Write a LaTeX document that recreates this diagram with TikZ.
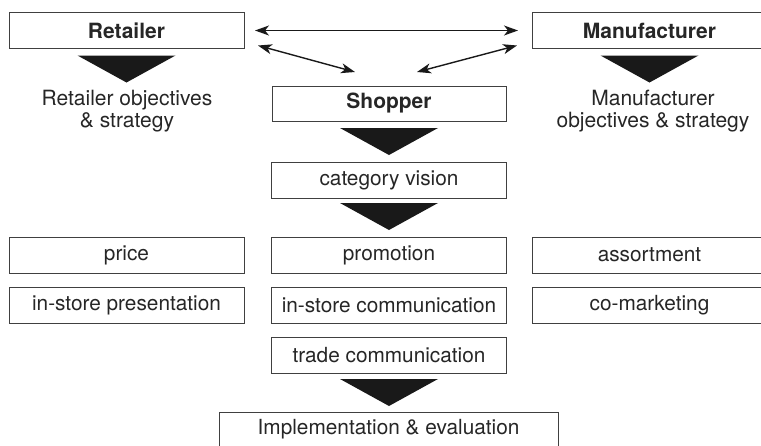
\documentclass[tikz,border=0pt]{standalone}
\usepackage{fontspec}
\setmainfont{TeX Gyre Heros}
\usetikzlibrary{arrows.meta, calc, positioning}

% black funnel below a box: #1 node, #2 gap
\newcommand\funnelbelow[2]{%
  \fill[funnel] ($(#1.south)+(-49,#2)$) -- ($(#1.south)+(49,#2)$)
                -- ($(#1.south)+(0,#2+27)$) -- cycle;}

\begin{document}
\begin{tikzpicture}[x=1pt, y=-1pt,% pixel units, y pointing down
         > = {Stealth[length=14pt, width=10pt, inset=4pt]},
box/.style = {draw=black!75, line width=0.9pt,
              minimum width=235pt, minimum height=36pt,
              inner sep=0pt, outer sep=0pt,
              font=\fontsize{20.8}{24}\selectfont, text=black!85},
head/.style = {box, font=\fontsize{21}{24}\selectfont\bfseries},
note/.style = {align=center, inner sep=0pt,
               font=\fontsize{21}{22.5}\selectfont, text=black!85},
funnel/.style = {fill=black!90},
link/.style = {<->, line width=1.4pt, black!90}
                    ]
	\useasboundingbox (0,0) rectangle (761,445);
	\clip (0,0) rectangle (761,445);

	% top row
	\node[head] (retailer) at (126.5,30.5) {Retailer};
	\node[head] (manufacturer) at (649.5,30.5) {Manufacturer};
	\node[head, minimum width=234pt, minimum height=35pt] (shopper) at (389,103.5) {Shopper};

	\node[note] (retailer goals) at (127,111) {Retailer objectives\\\& strategy};
	\node[note] (manufacturer goals) at (653,111) {Manufacturer\\objectives \& strategy};

	% levers
	\node[box] (vision) at (389,180) {category vision};
	\node[box] (price) at (126.5,255) {price};
	\node[box] (promotion) at (389,255) {promotion};
	\node[box] (assortment) at (649.5,255) {assortment};
	\node[box] (presentation) at (126.5,305) {in-store presentation};
	\node[box] (communication) at (389,305) {in-store communication};
	\node[box] (marketing) at (649.5,305) {co-marketing};
	\node[box] (trade) at (389,355) {trade communication};
	\node[box, minimum width=339pt, minimum height=34pt] (implementation) at (388.5,429) {Implementation \& evaluation};

	% funnels
	\funnelbelow{retailer}{7}
	\funnelbelow{manufacturer}{7}
	\funnelbelow{shopper}{7}
	\funnelbelow{vision}{5}
	\funnelbelow{trade}{6}

	% arrows
	\coordinate (shopper left) at ($(shopper.north)+(-34,-14)$);
	\coordinate (shopper right) at ($(shopper.north)+(28,-14)$);
	\draw[link] ([xshift=11pt]retailer.east) -- ([xshift=-14pt]manufacturer.west);
	\draw[link] ($(retailer.south east)+(14,-3)$) -- (shopper left);
	\draw[link] ($(manufacturer.south west)+(-15,-3)$) -- (shopper right);
\end{tikzpicture}
\end{document}
